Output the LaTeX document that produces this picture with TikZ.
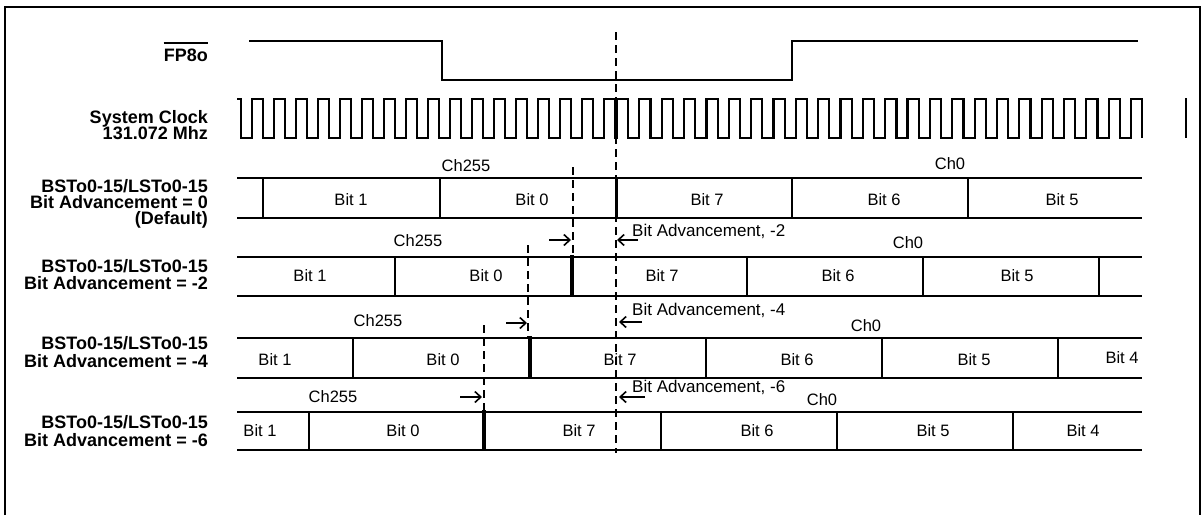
\documentclass[tikz,border=0pt]{standalone}
\usepackage{fontspec}
\setmainfont{Liberation Sans}
\usetikzlibrary{arrows.meta}
\begin{document}
\begin{tikzpicture}[x=1pt,y=-1pt,
  wave/.style={line width=2.2pt, line join=miter},
  divider/.style={line width=2.2pt},
  thickdiv/.style={line width=4.5pt},
  dashv/.style={line width=2.2pt, dash pattern=on 8pt off 5pt},
  lbl/.style={font=\fontsize{18}{18}\selectfont\bfseries, anchor=base east, inner sep=0pt},
  bittxt/.style={font=\fontsize{16.5}{16.5}\selectfont, inner sep=0pt},
  advtxt/.style={font=\fontsize{17}{17}\selectfont, inner sep=0pt, anchor=west},
  arr/.style={line width=1.6pt, -{Straight Barb[length=6pt,width=11pt]}},
]
\useasboundingbox (0,0) rectangle (1204,515);
% frame
\draw[line width=2.2pt] (5,515) -- (5,7) -- (1200,7) -- (1200,515);

% ---- left labels
\node[lbl] (fp) at (208,61) {FP8o};
\draw[line width=1.8pt] ([yshift=5pt]fp.north west) -- ([yshift=5pt]fp.north east);
\node[lbl] (sc1) at (208,123) {System Clock};
\node[lbl] (sc2) at (208,139) {131.072 Mhz};
\node[lbl] (a0) at (208,192) {BSTo0-15/LSTo0-15};
\node[lbl] (b0) at (208,208) {Bit Advancement = 0};
\node[lbl] (c0) at (208,224) {(Default)};
\node[lbl] (a1) at (208,272) {BSTo0-15/LSTo0-15};
\node[lbl] (b1) at (208,289) {Bit Advancement = -2};
\node[lbl] (a2) at (208,349) {BSTo0-15/LSTo0-15};
\node[lbl] (b2) at (208,367) {Bit Advancement = -4};
\node[lbl] (a3) at (208,428) {BSTo0-15/LSTo0-15};
\node[lbl] (b3) at (208,446) {Bit Advancement = -6};

% ---- FP8o waveform
\draw[wave] (249,41) -- (442,41) -- (442,80) -- (792,80) -- (792,41) -- (1138,41);

% ---- system clock
\draw[wave] (237,99) -- (241,99) -- (241,138)
  \foreach \k in {0,...,16} { -- ({252+22*\k},138) -- ({252+22*\k},99) -- ({263+22*\k},99) -- ({263+22*\k},138) }
  \foreach \k in {0,...,23} { -- ({617+22.35*\k},138) -- ({617+22.35*\k},99) -- ({628.2+22.35*\k},99) -- ({628.2+22.35*\k},138) };
\draw[line width=1.5pt] (1186,98) -- (1186,138);

% ---- row 0
\draw[divider] (237,178) -- (1142,178);
\draw[divider] (237,218) -- (1142,218);
\foreach \x in {263,440,792,968} { \draw[divider] (\x,178) -- (\x,218); }
\draw[line width=3pt] (616,178) -- (616,218);
\node[bittxt] (r0a) at (351,200) {Bit 1};
\node[bittxt] (r0b) at (532,200) {Bit 0};
\node[bittxt] (r0c) at (707,200) {Bit 7};
\node[bittxt] (r0d) at (884,200) {Bit 6};
\node[bittxt] (r0e) at (1062,200) {Bit 5};
\node[bittxt] (ch255a) at (466,166) {Ch255};
\node[bittxt] (ch0a) at (950,164) {Ch0};

% ---- row 1
\draw[divider] (237,257) -- (1142,257);
\draw[divider] (237,296) -- (1142,296);
\foreach \x in {395,747,923,1099} { \draw[divider] (\x,257) -- (\x,296); }
\draw[thickdiv] (572,255) -- (572,296);
\node[bittxt] (r1a) at (310,276) {Bit 1};
\node[bittxt] (r1b) at (486,276) {Bit 0};
\node[bittxt] (r1c) at (662,276) {Bit 7};
\node[bittxt] (r1d) at (838,276) {Bit 6};
\node[bittxt] (r1e) at (1017,276) {Bit 5};
\node[bittxt] (ch255b) at (418,241) {Ch255};
\node[bittxt] (ch0b) at (908,243) {Ch0};

% ---- row 2
\draw[divider] (237,338) -- (1142,338);
\draw[divider] (237,378) -- (1142,378);
\foreach \x in {353,706,882,1058} { \draw[divider] (\x,338) -- (\x,378); }
\draw[thickdiv] (530,336) -- (530,378);
\node[bittxt] (r2a) at (275,360) {Bit 1};
\node[bittxt] (r2b) at (443,360) {Bit 0};
\node[bittxt] (r2c) at (620,360) {Bit 7};
\node[bittxt] (r2d) at (797,360) {Bit 6};
\node[bittxt] (r2e) at (974,360) {Bit 5};
\node[bittxt] (r2f) at (1122,358) {Bit 4};
\node[bittxt] (ch255c) at (378,321) {Ch255};
\node[bittxt] (ch0c) at (866,326) {Ch0};

% ---- row 3
\draw[divider] (237,412) -- (1142,412);
\draw[divider] (237,450) -- (1142,450);
\foreach \x in {309,661,837,1013} { \draw[divider] (\x,412) -- (\x,450); }
\draw[thickdiv] (484,410) -- (484,450);
\node[bittxt] (r3a) at (260,431) {Bit 1};
\node[bittxt] (r3b) at (403,431) {Bit 0};
\node[bittxt] (r3c) at (579,431) {Bit 7};
\node[bittxt] (r3d) at (757,431) {Bit 6};
\node[bittxt] (r3e) at (933,431) {Bit 5};
\node[bittxt] (r3f) at (1083,431) {Bit 4};
\node[bittxt] (ch255d) at (333,397) {Ch255};
\node[bittxt] (ch0d) at (822,400) {Ch0};

% ---- dashed reference lines
\draw[dashv] (616,32) -- (616,453);
\draw[dashv] (573,167) -- (573,257);
\draw[dashv] (528,245) -- (528,338);
\draw[dashv] (484,325) -- (484,412);

% ---- advancement labels and arrows
\node[advtxt] (adv2) at (632,231) {Bit Advancement, -2};
\node[advtxt] (adv4) at (632,310) {Bit Advancement, -4};
\node[advtxt] (adv6) at (632,387) {Bit Advancement, -6};

\coordinate (r1s) at (549,240); \coordinate (r1t) at (571,240);
\coordinate (l1s) at (638,240); \coordinate (l1t) at (617,240);
\coordinate (r2s) at (506,323); \coordinate (r2t) at (527,323);
\coordinate (l2s) at (642,322); \coordinate (l2t) at (619,322);
\coordinate (r3s) at (460,397); \coordinate (r3t) at (482,397);
\coordinate (l3s) at (645,397); \coordinate (l3t) at (619,397);
\draw[arr] (r1s) -- (r1t);
\draw[arr] (l1s) -- (l1t);
\draw[arr] (r2s) -- (r2t);
\draw[arr] (l2s) -- (l2t);
\draw[arr] (r3s) -- (r3t);
\draw[arr] (l3s) -- (l3t);
\end{tikzpicture}
\end{document}
